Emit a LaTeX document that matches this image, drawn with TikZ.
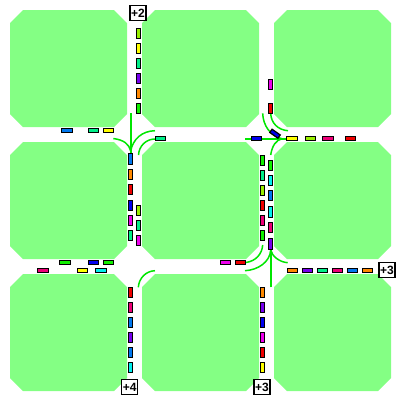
\documentclass[tikz,border=0pt]{standalone}
\usepackage{fontspec}
\setmainfont{Liberation Sans}
\definecolor{blockgreen}{HTML}{84FF84}
\definecolor{pathgreen}{HTML}{00E600}
\definecolor{cspring}{HTML}{00EE88}
\definecolor{clime}{HTML}{99EE00}
\definecolor{cyellow}{HTML}{FFFF00}
\definecolor{cpurple}{HTML}{7700EE}
\definecolor{corange}{HTML}{FF8800}
\definecolor{cgreen}{HTML}{11EE00}
\definecolor{csky}{HTML}{0077EE}
\definecolor{cred}{HTML}{EE0000}
\definecolor{cblue}{HTML}{0000EE}
\definecolor{cmagenta}{HTML}{EE00EE}
\definecolor{cpink}{HTML}{EE0077}
\definecolor{ccyan}{HTML}{00EEEE}
\tikzset{
  vcar/.style={draw=black, line width=1.2pt, inner sep=0pt, minimum width=4pt},
  hcar/.style={draw=black, line width=1.2pt, inner sep=0pt, minimum height=4pt},
  gain/.style={draw=black, fill=white, line width=1.1pt, inner sep=0pt, minimum width=16pt, minimum height=14.5pt, font=\bfseries\fontsize{12}{12}\selectfont},
  route/.style={pathgreen, line width=1.5pt},
  mainroute/.style={pathgreen, line width=2pt}
}
\begin{document}
\begin{tikzpicture}[x=1pt,y=-1pt]
  \useasboundingbox (0,0) rectangle (400,400);

  \foreach \bx in {10,142,274}
    \foreach \by in {10,142,274}
      \fill[blockgreen] (\bx+13,\by) -- (\bx+104,\by) -- (\bx+117,\by+13) -- (\bx+117,\by+104)
        -- (\bx+104,\by+117) -- (\bx+13,\by+117) -- (\bx,\by+104) -- (\bx,\by+13) -- cycle;

  \coordinate (mergeA) at (130.7,151);
  \coordinate (mergeB) at (282,138.7);
  \coordinate (mergeC) at (270.7,250);

  \draw[mainroute] (130.7,113.3) -- (mergeA) -- (130.7,153);
  \draw[route] (113.3,138.5) .. controls (124,140) and (129,144) .. (mergeA);
  \draw[route] (155,130.7) .. controls (142,131) and (133,139) .. (mergeA);
  \draw[route] (155,139) .. controls (146,139) and (139,146) .. (138.5,155);

  \draw[mainroute] (245,138.7) -- (mergeB) -- (286,138.7);
  \draw[route] (262.7,113.3) .. controls (263,125) and (270,136) .. (mergeB);
  \draw[route] (270.7,113.3) .. controls (271,123) and (278,130) .. (288,130.7);
  \draw[route] (270.7,155) .. controls (272,146) and (276,140) .. (mergeB);

  \draw[mainroute] (270.7,287.3) -- (mergeC) -- (270.7,248.5);
  \draw[route] (262.7,245) .. controls (262,254) and (256,261) .. (246,262.5);
  \draw[route] (245,270.7) .. controls (258,270) and (270,262) .. (mergeC);
  \draw[route] (287.7,262.7) .. controls (279,262) and (272,256) .. (mergeC);
  \draw[route] (155,270.7) .. controls (146,271) and (139,278) .. (138.3,287.3);

  \foreach \cx/\cy/\clen/\col [count=\n] in {
    138.5/33.3/10/clime, 138.5/48.3/10/cyellow, 138.5/63.3/10/cspring, 138.5/78.3/10/cpurple,
    138.5/93.3/10/corange, 138.5/108.3/10/cgreen, 138.5/210.3/10/clime, 138.5/225.3/10/cspring,
    138.5/240.3/10/cmagenta,
    130.5/158.8/11/csky, 130.5/174.2/10/corange, 130.5/189.6/10/cred, 130.5/205.3/10/cblue,
    130.5/220.3/10/cmagenta, 130.5/235.3/10/cspring,
    130.5/292.5/10/cred, 130.5/307.5/10/cpink, 130.5/322.5/10/csky, 130.5/337.5/10/cpurple,
    130.5/352.5/10/csky, 130.5/367.5/10/ccyan,
    270.5/84.6/10/cmagenta, 270.5/108.6/10/cred, 270.5/165.5/10/cgreen, 270.5/180.5/10/ccyan,
    270.5/195.5/10/csky, 270.5/211.7/11/ccyan, 270.5/227.5/10/cpink, 270.5/243.7/11/cpurple,
    262.5/160.5/10/cgreen, 262.5/175.5/10/cspring, 262.5/190.5/10/clime, 262.5/205.3/10/cred,
    262.5/220.3/10/cpink, 262.5/235.3/10/cgreen,
    262.5/292.5/10/corange, 262.5/307.5/10/cpurple, 262.5/322.5/10/cblue, 262.5/337.5/10/cmagenta,
    262.5/352.5/10/cred, 262.5/367.5/10/cyellow}
    \node[vcar, minimum height=\clen pt, fill=\col] (vcar\n) at (\cx,\cy) {};

  \foreach \cx/\cy/\clen/\col [count=\n] in {
    66.8/130.5/11/csky, 93.5/130.5/10/cspring, 108.5/130.5/10/cyellow,
    160.5/138.5/10/cspring, 256.3/138.5/10/cblue, 291.8/138.5/11/cyellow, 310.5/138.5/10/clime,
    328/138.5/11/cpink, 350.5/138.5/10/cred,
    65/262.5/11/cgreen, 93.5/262.5/10/cblue, 108.5/262.5/10/cgreen, 225.6/262.5/10/cmagenta,
    240.6/262.5/10/cred,
    42.8/270.5/11/cpink, 82.5/270.5/10/cyellow, 101/270.5/11/ccyan,
    292.5/270.5/10/corange, 307.5/270.5/10/cpurple, 322.5/270.5/10/cspring, 337.5/270.5/10/cpink,
    352.5/270.5/10/csky, 367.5/270.5/10/corange}
    \node[hcar, minimum width=\clen pt, fill=\col] (hcar\n) at (\cx,\cy) {};

  \node[hcar, minimum width=10pt, fill=cblue, rotate=-35] (turncar) at (275,133.7) {};

  \node[gain] (gaintop) at (138,13) {+2};
  \node[gain] (gainleft) at (129.8,387) {+4};
  \node[gain] (gainmid) at (262,387) {+3};
  \node[gain] (gainright) at (387,270) {+3};
\end{tikzpicture}
\end{document}
